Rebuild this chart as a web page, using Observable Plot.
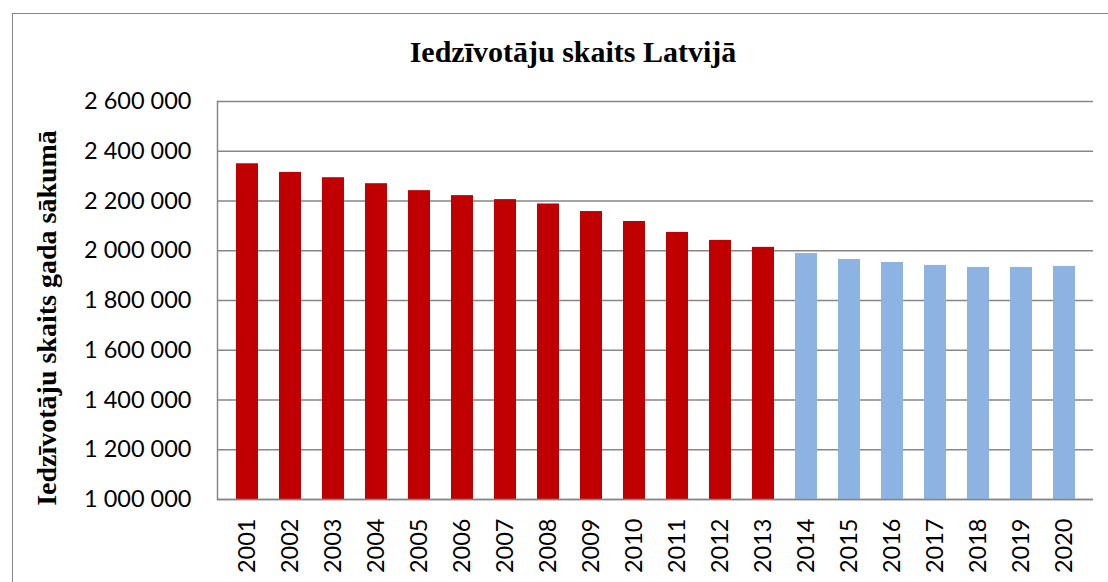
<!DOCTYPE html>
<html>
<head>
<meta charset="utf-8">
<script src="https://cdn.jsdelivr.net/npm/d3@7"></script>
<script src="https://cdn.jsdelivr.net/npm/@observablehq/plot@0.6"></script>
<style>
  html, body { margin: 0; padding: 0; background: #fff; }
  #wrap { position: relative; width: 1108px; height: 582px; overflow: hidden; }
  #border { position: absolute; left: 12px; top: 13px; width: 1200px; height: 700px; border: 1.5px solid #868686; box-sizing: border-box; }
  #title { position: absolute; left: 0; width: 1146px; top: 35px; text-align: center; font-family: "Liberation Serif", serif; font-weight: bold; font-size: 30px; line-height: 1.15; color: #000; }
  #ylab { position: absolute; left: 47px; top: 318px; transform: translate(-50%, -50%) rotate(-90deg); white-space: nowrap; font-family: "Liberation Serif", serif; font-weight: bold; font-size: 28px; color: #000; }
  #chart { position: absolute; left: 0; top: 0; }
</style>
</head>
<body>
<div id="wrap">
  <div id="border"></div>
  <div id="chart"></div>
  <div id="title">Iedzīvotāju skaits Latvijā</div>
  <div id="ylab">Iedzīvotāju skaits gada sākumā</div>
</div>
<script>
const years = ["2001","2002","2003","2004","2005","2006","2007","2008","2009","2010",
               "2011","2012","2013","2014","2015","2016","2017","2018","2019","2020"];
const population = [2349600, 2314800, 2293600, 2269600, 2241600, 2221600, 2205600, 2188000, 2157600, 2117600,
                    2073600, 2041600, 2013600, 1989000, 1965000, 1953000, 1941000, 1933000, 1933000, 1937000];
const kind = ["fact","fact","fact","fact","fact","fact","fact","fact","fact","fact",
              "fact","fact","fact","forecast","forecast","forecast","forecast","forecast","forecast","forecast"];
const yTicks = [1000000, 1200000, 1400000, 1600000, 1800000, 2000000, 2200000, 2400000, 2600000];

const data = years.map((y, i) => ({year: y, value: population[i], kind: kind[i]}));
const fmt = v => d3.format(",")(v).replace(/,/g, " ");

const chart = Plot.plot({
  width: 1108,
  height: 582,
  marginLeft: 217,
  marginRight: 15,
  marginTop: 101,
  marginBottom: 83,
  style: {fontFamily: "Lato, sans-serif", fontSize: "23.5px", color: "#000", background: "transparent", overflow: "visible"},
  x: {domain: years, paddingInner: 0.5, paddingOuter: 0.25, label: null},
  y: {domain: [1000000, 2600000], ticks: yTicks, label: null},
  color: {domain: ["fact", "forecast"], range: ["#C00000", "#8DB3E2"]},
  marks: [
    Plot.gridY(yTicks, {stroke: "#868686", strokeOpacity: 1, strokeWidth: 1.5}),
    Plot.barY(data, {x: "year", y1: 1000000, y2: "value", fill: "kind"}),
    Plot.frame({anchor: "left", stroke: "#868686", strokeWidth: 1.5}),
    Plot.ruleY([1000000], {stroke: "#868686", strokeWidth: 1.5}),
    Plot.axisY(yTicks, {tickSize: 0, tickPadding: 26, tickFormat: fmt, label: null}),
    Plot.axisX({tickSize: 0, tickPadding: 19, tickRotate: -90, label: null})
  ]
});
document.getElementById("chart").appendChild(chart);
</script>
</body>
</html>
